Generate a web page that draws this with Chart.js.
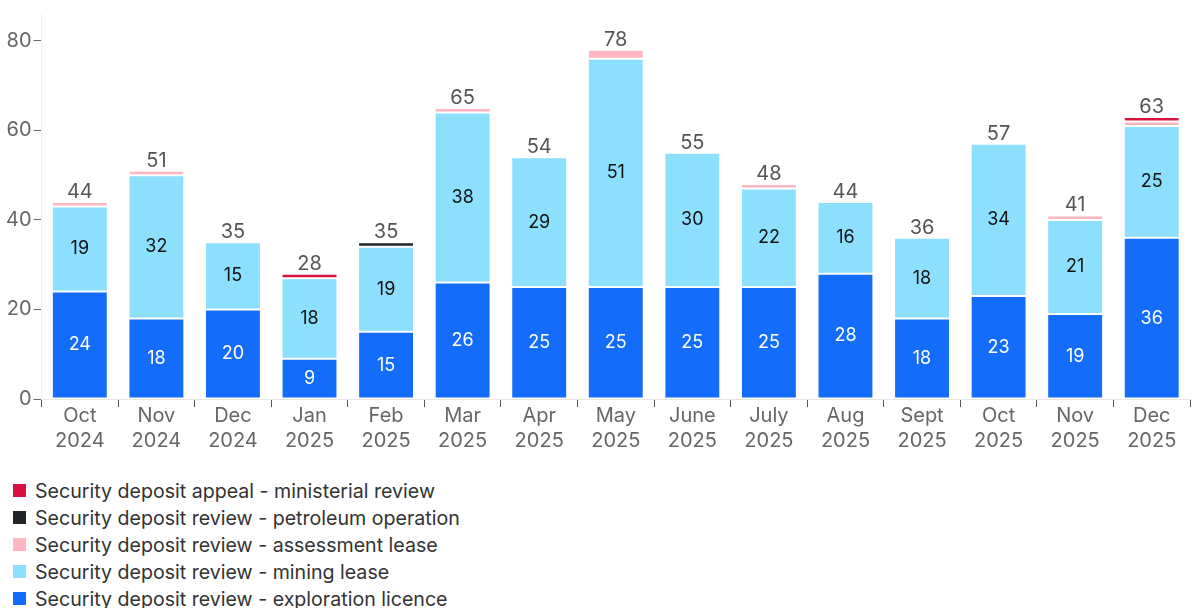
<!DOCTYPE html>
<html>
<head>
<meta charset="utf-8">
<script src="https://cdn.jsdelivr.net/npm/chart.js@4.4.1/dist/chart.umd.min.js"></script>
<style>
  body { margin: 0; background: #fff; font-family: Inter, sans-serif; }
  #wrap { position: relative; width: 1192px; height: 449px; }
  #legend { margin: 28px 0 0 13px; }
  .item { display: flex; align-items: center; height: 27px; font-size: 19.6px; color: #333; }
  .box { width: 13px; height: 13px; margin-right: 9px; }
</style>
</head>
<body>
<div id="wrap"><canvas id="myChart"></canvas></div>
<div id="legend"></div>
<script>
const months = [['Oct','2024'],['Nov','2024'],['Dec','2024'],['Jan','2025'],['Feb','2025'],['Mar','2025'],['Apr','2025'],['May','2025'],['June','2025'],['July','2025'],['Aug','2025'],['Sept','2025'],['Oct','2025'],['Nov','2025'],['Dec','2025']]
const exploration = [24,18,20,9,15,26,25,25,25,25,28,18,23,19,36]
const mining = [19,32,15,18,19,38,29,51,30,22,16,18,34,21,25]
const assessment = [1,1,0,0,0,1,0,2,0,1,0,0,0,1,1]
const petroleum = [0,0,0,0,1,0,0,0,0,0,0,0,0,0,0]
const ministerial = [0,0,0,1,0,0,0,0,0,0,0,0,0,0,1]
const yTicks = [0,20,40,60,80]

const FONT = 'Inter, sans-serif'

// labels inside bars and totals above
const labelPlugin = {
    id: 'labels',
    afterDatasetsDraw(chart) {
        const ctx = chart.ctx
        const y = chart.scales.y
        ctx.save()
        ctx.textAlign = 'center'
        ctx.textBaseline = 'middle'
        ctx.font = '18px ' + FONT
        ;[0, 1].forEach(di => {
            const meta = chart.getDatasetMeta(di)
            meta.data.forEach((bar, i) => {
                const v = chart.data.datasets[di].data[i]
                if (!v) return
                ctx.fillStyle = di === 0 ? '#fff' : '#111'
                ctx.fillText(v, bar.x, (bar.y + bar.base) / 2)
            })
        })
        ctx.font = '20px ' + FONT
        ctx.fillStyle = '#555'
        ctx.textBaseline = 'alphabetic'
        const meta0 = chart.getDatasetMeta(0)
        months.forEach((m, i) => {
            let total = 0
            chart.data.datasets.forEach(ds => total += ds.data[i])
            ctx.fillText(total, meta0.data[i].x, y.getPixelForValue(total) - 4)
        })
        ctx.restore()
    }
}

const datasets = [
    { label: 'Security deposit review - exploration licence', data: exploration, backgroundColor: '#146cfb' },
    { label: 'Security deposit review - mining lease', data: mining, backgroundColor: '#8cdffd' },
    { label: 'Security deposit review - assessment lease', data: assessment, backgroundColor: '#ffb6c1' },
    { label: 'Security deposit review - petroleum operation', data: petroleum, backgroundColor: '#212529' },
    { label: 'Security deposit appeal - ministerial review', data: ministerial, backgroundColor: '#d7123f' }
]
datasets.forEach(d => {
    d.borderColor = '#fff'
    d.borderWidth = 1
    d.borderSkipped = false
    d.barPercentage = 0.73
    d.categoryPercentage = 1
})

const ctx = document.getElementById('myChart')
new Chart(ctx, {
    type: 'bar',
    data: { labels: months, datasets: datasets },
    plugins: [labelPlugin],
    options: {
        responsive: true,
        maintainAspectRatio: false,
        animation: false,
        layout: { padding: { top: 0, right: 2, left: 4, bottom: 0 } },
        plugins: { legend: { display: false }, tooltip: { enabled: false } },
        scales: {
            x: {
                stacked: true,
                grid: { offset: true, drawOnChartArea: false, tickLength: 8, color: '#555' },
                border: { color: '#e6e6e6' },
                ticks: { color: '#666', font: { family: FONT, size: 20, lineHeight: 1.25 }, padding: -4, maxRotation: 0 }
            },
            y: {
                stacked: true,
                min: 0,
                max: 86,
                afterBuildTicks: scale => { scale.ticks = yTicks.map(v => ({ value: v })) },
                grid: { drawOnChartArea: false, tickLength: 8, color: '#666' },
                border: { color: '#eeeeee' },
                ticks: { color: '#666', font: { family: FONT, size: 20 }, padding: 2 }
            }
        }
    }
})

// legend, reversed order like the original
const legend = document.getElementById('legend')
datasets.slice().reverse().forEach(d => {
    const row = document.createElement('div')
    row.className = 'item'
    row.innerHTML = `<span class="box" style="background:${d.backgroundColor}"></span>${d.label}`
    legend.appendChild(row)
})
</script>
</body>
</html>
